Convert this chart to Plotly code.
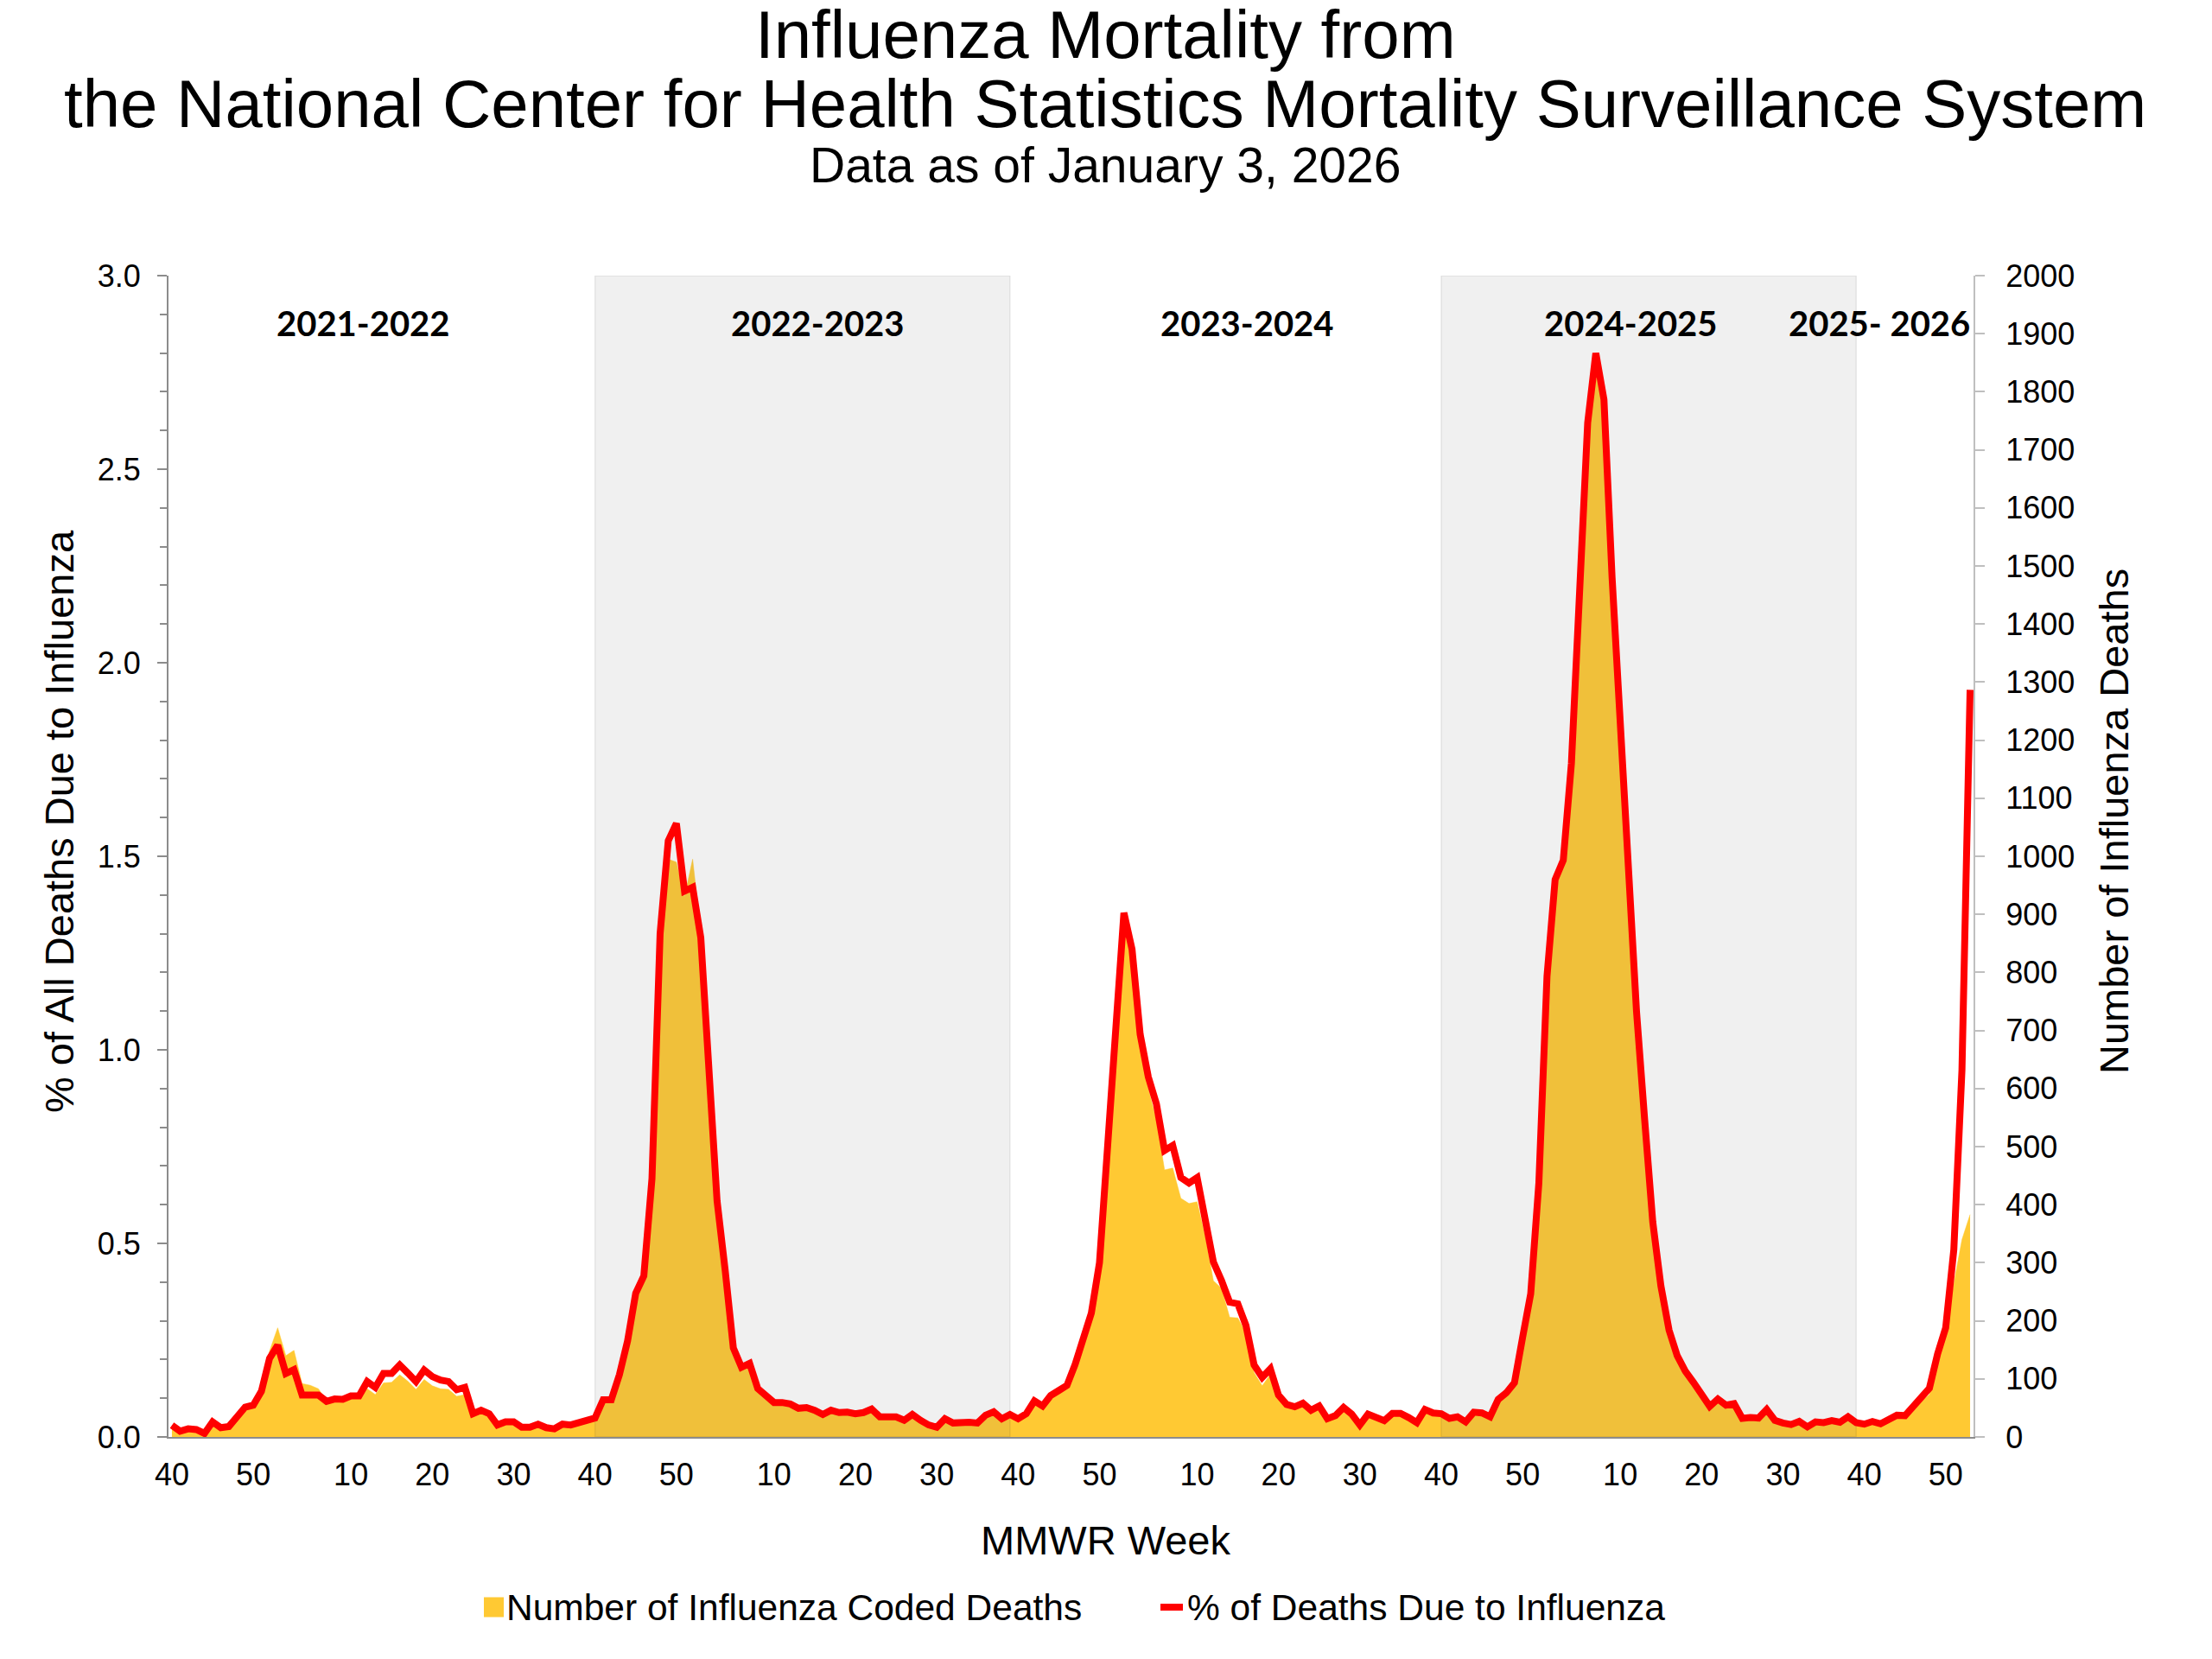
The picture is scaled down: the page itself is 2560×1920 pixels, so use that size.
import plotly.graph_objects as go

# ---- data: MMWR week, % of deaths due to flu, flu coded deaths ----
season_names = ["2021-2022", "2022-2023", "2023-2024", "2024-2025", "2025- 2026"]
shaded_seasons = ["2022-2023", "2024-2025"]

weeks_2122 = list(range(40, 53)) + list(range(1, 40))
weeks_2223 = list(range(40, 53)) + list(range(1, 40))
weeks_2324 = list(range(40, 53)) + list(range(1, 40))
weeks_2425 = list(range(40, 53)) + list(range(1, 40))
weeks_2526 = list(range(40, 54))

pct_2122 = [0.030, 0.015, 0.021, 0.019, 0.009, 0.039, 0.024, 0.027, 0.052, 0.077, 0.082, 0.118, 0.203,
            0.237, 0.164, 0.174, 0.108, 0.108, 0.108, 0.092, 0.098, 0.097, 0.106, 0.106, 0.143, 0.128,
            0.164, 0.164, 0.186, 0.165, 0.143, 0.173, 0.156, 0.147, 0.143, 0.122, 0.128, 0.060, 0.069,
            0.060, 0.031, 0.039, 0.039, 0.025, 0.025, 0.033, 0.024, 0.021, 0.033, 0.031, 0.037, 0.042]
pct_2223 = [0.049, 0.096, 0.096, 0.161, 0.248, 0.371, 0.416, 0.667, 1.30, 1.54, 1.585, 1.41, 1.42,
            1.29, 0.95, 0.61, 0.43, 0.23, 0.18, 0.19, 0.125, 0.107, 0.089, 0.089, 0.085, 0.074,
            0.076, 0.069, 0.058, 0.069, 0.063, 0.064, 0.060, 0.063, 0.072, 0.052, 0.052, 0.052, 0.043,
            0.058, 0.043, 0.031, 0.025, 0.047, 0.036, 0.038, 0.038, 0.036, 0.056, 0.065, 0.047, 0.058]
pct_2324 = [0.047, 0.060, 0.093, 0.080, 0.107, 0.120, 0.133, 0.187, 0.25, 0.32, 0.45, 0.75, 1.07,
            1.354, 1.26, 1.04, 0.93, 0.86, 0.74, 0.753, 0.67, 0.656, 0.67, 0.564, 0.452, 0.404,
            0.348, 0.344, 0.288, 0.186, 0.154, 0.176, 0.108, 0.084, 0.078, 0.087, 0.069, 0.080, 0.047,
            0.055, 0.076, 0.059, 0.031, 0.059, 0.050, 0.042, 0.061, 0.061, 0.050, 0.037, 0.071, 0.062]
pct_2425 = [0.060, 0.048, 0.052, 0.039, 0.064, 0.062, 0.052, 0.097, 0.114, 0.14, 0.257, 0.37, 0.656,
            1.19, 1.44, 1.49, 1.74, 2.22, 2.62, 2.80, 2.68, 2.22, 1.82, 1.42, 1.10, 0.82,
            0.555, 0.39, 0.276, 0.21, 0.17, 0.141, 0.113, 0.079, 0.098, 0.082, 0.086, 0.048, 0.050,
            0.049, 0.071, 0.043, 0.036, 0.032, 0.040, 0.026, 0.039, 0.037, 0.042, 0.038, 0.052, 0.037]
pct_2526 = [0.033, 0.040, 0.034, 0.045, 0.056, 0.055, 0.080, 0.100, 0.126, 0.214, 0.282, 0.484, 0.948, 1.93]

deaths_2122 = [17, 9, 12, 11, 5, 23, 15, 17, 33, 48, 53, 80, 148,
               188, 140, 149, 92, 89, 83, 63, 64, 64, 68, 69, 83, 73,
               93, 94, 107, 96, 82, 99, 88, 83, 82, 70, 73, 38, 44,
               38, 20, 24, 24, 16, 16, 21, 15, 13, 21, 20, 24, 27]
deaths_2223 = [31, 60, 62, 105, 160, 240, 272, 440, 850, 995, 990, 930, 995,
               870, 640, 410, 290, 155, 120, 125, 83, 71, 59, 59, 56, 49,
               50, 46, 38, 45, 42, 42, 40, 41, 47, 34, 34, 34, 28,
               38, 28, 20, 16, 31, 24, 25, 25, 24, 37, 43, 31, 38]
deaths_2324 = [31, 40, 62, 53, 71, 80, 89, 125, 167, 213, 300, 500, 713,
               900, 835, 680, 600, 545, 460, 463, 411, 402, 405, 345, 269, 256,
               206, 205, 179, 111, 88, 108, 66, 53, 50, 56, 44, 51, 30,
               35, 49, 38, 20, 38, 32, 27, 39, 39, 32, 24, 46, 40]
deaths_2425 = [38, 30, 33, 25, 41, 40, 33, 62, 73, 90, 168, 242, 430,
               785, 950, 985, 1150, 1470, 1740, 1860, 1780, 1460, 1200, 940, 725, 540,
               365, 255, 180, 137, 110, 91, 73, 51, 63, 53, 55, 31, 32,
               31, 46, 27, 23, 20, 25, 16, 25, 23, 27, 24, 33, 23]
deaths_2526 = [21, 26, 22, 29, 36, 35, 50, 61, 73, 125, 182, 265, 340, 383]

season_weeks = [weeks_2122, weeks_2223, weeks_2324, weeks_2425, weeks_2526]
season_pct = [pct_2122, pct_2223, pct_2324, pct_2425, pct_2526]
season_deaths = [deaths_2122, deaths_2223, deaths_2324, deaths_2425, deaths_2526]

weeks, pct, deaths, starts = [], [], [], []
for w, p, d in zip(season_weeks, season_pct, season_deaths):
    starts.append(len(weeks))
    weeks += w
    pct += p
    deaths += d
idx = list(range(len(weeks)))

tick_idx = [i for i, w in enumerate(weeks) if w % 10 == 0]
tick_txt = [str(weeks[i]) for i in tick_idx]

# page layout, in screenshot pixels; the html body adds an 8px margin round the figure
OFF = 8
W, H = 2560 - 2 * OFF, 1920 - 2 * OFF
L, R, T, B = 195 - OFF, 2284 - OFF, 319 - OFF, 1663 - OFF


def px(x):
    return (x - OFF - L) / (R - L)


def py(y):
    return (B - (y - OFF)) / (B - T)


FONT = "Liberation Sans, Arial, sans-serif"
GREY_L = "#8C8C8C"
GREY_R = "#BFBFBF"
YELLOW = "#FFC933"
RED = "#FF0000"

fig = go.Figure()

# ── yellow area: number of deaths (right axis) ──
fig.add_trace(go.Scatter(
    x=idx, y=deaths, yaxis="y", mode="lines",
    line=dict(color=YELLOW, width=0.5), fill="tozeroy", fillcolor=YELLOW,
    name="Number of Influenza Coded Deaths", hoverinfo="skip",
))

# ── grey season bands, over the area but under the red line ──
for name, s, w in zip(season_names, starts, season_weeks):
    if name in shaded_seasons:
        x0, x1 = s, s + len(w) - 1
        fig.add_trace(go.Scatter(
            x=[x0, x1, x1, x0, x0], y=[0, 0, 2000, 2000, 0], yaxis="y",
            mode="lines", fill="toself", fillcolor="rgba(120,120,120,0.11)",
            line=dict(color="rgba(0,0,0,0.08)", width=1.5),
            hoverinfo="skip",
        ))

# ── red line: % of deaths (left axis) ──
fig.add_trace(go.Scatter(
    x=idx, y=pct, yaxis="y2", mode="lines",
    line=dict(color=RED, width=8),
    name="% of Deaths Due to Influenza", hoverinfo="skip",
))

annotations = [
    dict(text="Influenza Mortality from", x=px(1279), y=py(40), font=dict(size=78)),
    dict(text="the National Center for Health Statistics Mortality Surveillance System",
         x=px(1279), y=py(120), font=dict(size=78)),
    dict(text="Data as of January 3, 2026", x=px(1279), y=py(191), font=dict(size=57)),
    dict(text="% of All Deaths Due to Influenza", x=px(68), y=py(951), textangle=-90,
         font=dict(size=47)),
    dict(text="Number of Influenza Deaths", x=px(2446), y=py(951), textangle=-90,
         font=dict(size=47)),
    dict(text="MMWR Week", x=px(1279), y=py(1783), font=dict(size=47)),
    # legend texts
    dict(text="Number of Influenza Coded Deaths", x=px(584), y=py(1860), xanchor="left",
         font=dict(size=42.5)),
    dict(text="% of Deaths Due to Influenza", x=px(1372), y=py(1860), xanchor="left",
         font=dict(size=42.5)),
]
season_x = [420, 946, 1443, 1887, 2175]
for name, sx in zip(season_names, season_x):
    annotations.append(dict(text="<b>" + name + "</b>", x=px(sx), y=py(374),
                            font=dict(size=40, family="Lato, sans-serif")))
for a in annotations:
    a.setdefault("xanchor", "center")
    a.update(xref="paper", yref="paper", showarrow=False, yanchor="middle")

# legend swatches
shapes = [
    dict(type="rect", xref="paper", yref="paper", x0=px(560), x1=px(583), y0=py(1871.5),
         y1=py(1848.5), fillcolor=YELLOW, line=dict(width=0)),
    dict(type="line", xref="paper", yref="paper", x0=px(1343), x1=px(1369), y0=py(1860),
         y1=py(1860), line=dict(color=RED, width=8)),
]

fig.update_layout(
    width=W, height=H,
    margin=dict(l=L, r=W - R, t=T, b=H - B, pad=0),
    paper_bgcolor="white", plot_bgcolor="white",
    font=dict(family=FONT, size=36, color="black"),
    annotations=annotations, shapes=shapes,
    showlegend=False,
    xaxis=dict(range=[-0.42, len(idx) - 1 + 0.42], tickmode="array", tickvals=tick_idx,
               ticktext=tick_txt, showgrid=False, zeroline=False, showline=True,
               linecolor=GREY_L, linewidth=2, ticks="", ticklabelstandoff=11,
               tickfont=dict(size=36)),
    yaxis=dict(range=[0, 2000], side="right", dtick=100, tick0=0, showgrid=False,
               zeroline=False, showline=True, linecolor=GREY_R, linewidth=2,
               ticks="outside", ticklen=11, tickcolor=GREY_R, tickwidth=2,
               ticklabelstandoff=17, tickfont=dict(size=36)),
    yaxis2=dict(range=[0, 3], side="left", overlaying="y", anchor="x", dtick=0.5, tick0=0,
                tickformat=".1f", showgrid=False, zeroline=False, showline=True,
                linecolor=GREY_L, linewidth=2, ticks="outside", ticklen=11,
                tickcolor=GREY_L, tickwidth=2, ticklabelstandoff=12,
                minor=dict(dtick=0.1, ticks="outside", ticklen=8, tickcolor=GREY_L, tickwidth=2),
                tickfont=dict(size=36)),
)

fig.write_html("out.html")
